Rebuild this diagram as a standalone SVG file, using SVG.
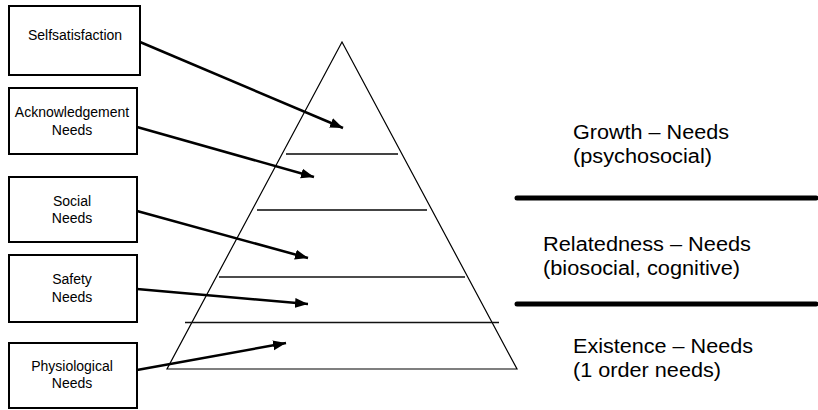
<svg xmlns="http://www.w3.org/2000/svg" width="818" height="410" viewBox="0 0 818 410">
<style>
.box{fill:#fff;stroke:#000;stroke-width:2}
.bt{font-family:"Liberation Sans",Arial,sans-serif;font-size:14px;fill:#000;text-anchor:middle}
.rt{font-family:"Liberation Sans",Arial,sans-serif;font-size:20px;fill:#000}
.arr{stroke:#000;stroke-width:2.5;fill:none;marker-end:url(#ah)}
.lvl{stroke:#444;stroke-width:2}
.lvl2{stroke:#111;stroke-width:1.5}
.sep{stroke:#000;stroke-width:5;stroke-linecap:round}
</style>
<defs>
<marker id="ah" markerUnits="userSpaceOnUse" markerWidth="14" markerHeight="12" refX="13" refY="5" orient="auto" viewBox="0 0 14 10">
<path d="M0,0 L13,5 L0,10 Z" fill="#000"/>
</marker>
</defs>
<rect width="818" height="410" fill="#fff"/>
<g id="pyramid">
<polygon points="342,42 167,369 517,369" fill="#fff" stroke="#000" stroke-width="1.2"/>
<line class="lvl" x1="286" y1="154" x2="398" y2="154"/>
<line class="lvl" x1="257" y1="210" x2="427" y2="210"/>
<line class="lvl2" x1="219" y1="277" x2="465" y2="277"/>
<line class="lvl2" x1="185" y1="322.5" x2="499" y2="322.5"/>
</g>
<g id="node-selfsatisfaction">
<rect class="box" x="9" y="6" width="131" height="69"/>
<text class="bt" x="75" y="40">Selfsatisfaction</text>
</g>
<g id="node-acknowledgement">
<rect class="box" x="9" y="88" width="128" height="66"/>
<text class="bt" x="72" y="117">Acknowledgement</text>
<text class="bt" x="72" y="135">Needs</text>
</g>
<g id="node-social">
<rect class="box" x="9" y="177" width="128" height="65"/>
<text class="bt" x="72" y="206">Social</text>
<text class="bt" x="72" y="223">Needs</text>
</g>
<g id="node-safety">
<rect class="box" x="9" y="255" width="128" height="67"/>
<text class="bt" x="72" y="284">Safety</text>
<text class="bt" x="72" y="302">Needs</text>
</g>
<g id="node-physiological">
<rect class="box" x="9" y="343" width="128" height="65"/>
<text class="bt" x="72" y="371">Physiological</text>
<text class="bt" x="72" y="388">Needs</text>
</g>
<g id="connectors">
<line class="arr" x1="140" y1="42" x2="343" y2="128"/>
<line class="arr" x1="137" y1="127" x2="314" y2="177"/>
<line class="arr" x1="137" y1="211" x2="308" y2="258"/>
<line class="arr" x1="137" y1="289" x2="308" y2="304"/>
<line class="arr" x1="137" y1="370" x2="286" y2="343"/>
</g>
<g id="separators">
<line class="sep" x1="517" y1="198" x2="816" y2="198"/>
<line class="sep" x1="517" y1="304" x2="816" y2="304"/>
</g>
<g id="label-growth">
<text class="rt" x="573" y="139" textLength="156" lengthAdjust="spacingAndGlyphs">Growth – Needs</text>
<text class="rt" x="573" y="163" textLength="139" lengthAdjust="spacingAndGlyphs">(psychosocial)</text>
</g>
<g id="label-relatedness">
<text class="rt" x="543" y="251" textLength="208" lengthAdjust="spacingAndGlyphs">Relatedness – Needs</text>
<text class="rt" x="543" y="275" textLength="197" lengthAdjust="spacingAndGlyphs">(biosocial, cognitive)</text>
</g>
<g id="label-existence">
<text class="rt" x="573" y="353" textLength="180" lengthAdjust="spacingAndGlyphs">Existence – Needs</text>
<text class="rt" x="573" y="377" textLength="148" lengthAdjust="spacingAndGlyphs">(1 order needs)</text>
</g>
</svg>
